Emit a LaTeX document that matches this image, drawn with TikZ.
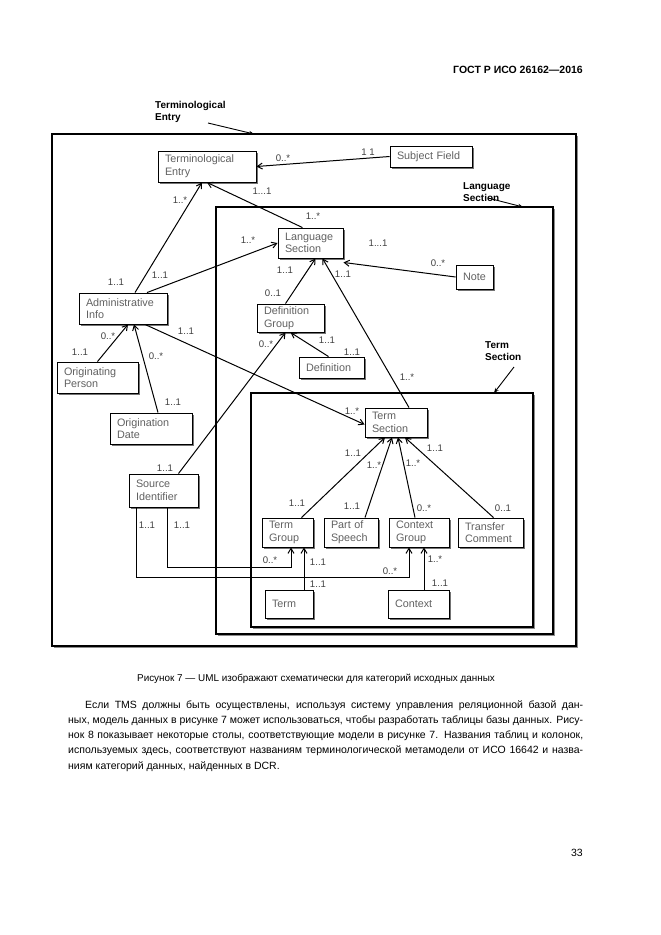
\documentclass[tikz,border=0pt]{standalone}
\usepackage{fontspec}
\setmainfont{Liberation Sans}
\usetikzlibrary{arrows.meta,shadows,calc}
\tikzset{
 bx/.style={draw=black, line width=0.9pt, fill=white, inner sep=0pt, align=left, text=black!62,
   font=\fontsize{10.8}{12.6}\selectfont,
   drop shadow={shadow xshift=1.6pt, shadow yshift=-1.6pt, fill=black!55, opacity=1}},
 frm/.style={draw=black, line width=1.6pt, fill=white, inner sep=0pt,
   drop shadow={shadow xshift=1.8pt, shadow yshift=-1.8pt, fill=black!45, opacity=1}},
 mlab/.style={font=\fontsize{9.6}{10}\selectfont, text=black!75, inner sep=0pt},
 flab/.style={font=\bfseries\fontsize{10}{12.5}\selectfont, align=left, inner sep=0pt, anchor=north west},
 conn/.style={line width=1pt, -{Straight Barb[length=5pt,width=6pt]}},
 ptr/.style={line width=0.9pt, -{Stealth[length=5pt,width=4pt]}},
 txt/.style={font=\fontsize{10.5}{15}\selectfont, inner sep=0pt, anchor=base west},
}
\newcommand\mybox[6]{%
 \pgfmathsetmacro\bw{#4-#2}\pgfmathsetmacro\bh{#5-#3}\pgfmathsetmacro\tw{#4-#2-14}%
 \node[bx, minimum width=\bw pt, minimum height=\bh pt, text width=\tw pt] (#1) at ({(#2+#4)/2},{(#3+#5)/2}) {#6};}
\newcommand\myframe[5]{%
 \pgfmathsetmacro\bw{#4-#2}\pgfmathsetmacro\bh{#5-#3}%
 \node[frm, minimum width=\bw pt, minimum height=\bh pt] (#1) at ({(#2+#4)/2},{(#3+#5)/2}) {};}
\newcommand\ml[4]{\node[mlab] (#1) at (#2,#3) {#4};}
\begin{document}
\begin{tikzpicture}[x=1pt,y=-1pt]
\useasboundingbox[fill=white] (0,0) rectangle (661,935);

% header
\node[font=\bfseries\fontsize{10.5}{12}\selectfont, anchor=base east, inner sep=0pt] (hdr) at (583,73) {ГОСТ Р ИСО 26162—2016};

% frames
\myframe{outer}{52}{134}{576}{646}
\myframe{lsf}{216}{207}{553}{634}
\myframe{tsf}{251}{393}{533}{627}

% frame labels
\node[flab] (tel) at (155,101) {Terminological\\Entry};
\node[flab] (lsl) at (463,182) {Language\\Section};
\node[flab] (tsl) at (485,341) {Term\\Section};
\coordinate (tea) at (208,123);
\coordinate (teb) at (254,134);
\coordinate (lsa) at (488,198);
\coordinate (lsb) at (523,207);
\coordinate (tsa) at (514,367);
\coordinate (tsb) at (494,393);
\draw[ptr] (tea) -- (teb);
\draw[ptr] (lsa) -- (lsb);
\draw[ptr] (tsa) -- (tsb);

% boxes
\mybox{te}{158}{151}{256}{182}{Terminological\\Entry}
\mybox{sf}{390}{146}{472}{167}{Subject Field}
\mybox{ls}{278}{228}{343}{258}{Language\\Section}
\mybox{note}{456}{265}{493}{289}{Note}
\mybox{dg}{257}{304}{324}{332}{Definition\\Group}
\mybox{def}{299}{357}{364}{378}{Definition}
\mybox{ai}{79}{293}{167}{324}{Administrative\\Info}
\mybox{op}{57}{362}{138}{393}{Originating\\Person}
\mybox{od}{110}{413}{192}{444}{Origination\\Date}
\mybox{tsn}{365}{408}{427}{437}{Term\\Section}
\mybox{si}{129}{474}{198}{507}{Source\\Identifier}
\mybox{tg}{262}{518}{313}{547}{Term\\Group}
\mybox{pos}{324}{518}{378}{547}{Part of\\Speech}
\mybox{cg}{389}{518}{449}{547}{Context\\Group}
\mybox{tc}{458}{518}{523}{547}{Transfer\\Comment}
\mybox{term}{265}{590}{313}{618}{Term}
\mybox{ctx}{388}{590}{449}{618}{Context}

% connectors
\draw[conn] (sf.west) -- (te.east);
\draw[conn] ([xshift=-8pt]ls.north) -- (te.south);
\draw[conn] ([xshift=12pt]ai.north) -- ([xshift=-5pt]te.south);
\draw[conn] ([xshift=24pt]ai.north) -- (ls.west);
\draw[conn] ([xshift=-5pt]dg.north) -- ([xshift=5pt]ls.south);
\draw[conn] ([xshift=13pt]tsn.north) -- ([xshift=12pt]ls.south);
\draw[conn] (note.west) -- ([yshift=-4pt]ls.south east);
\draw[conn] ([xshift=-3pt]def.north) -- (dg.south);
\draw[conn] ([xshift=15pt]si.north) -- ([xshift=-5pt]dg.south);
\draw[conn] ([xshift=22pt]ai.south) -- ([yshift=-2pt]tsn.west);
\draw[conn] (op.north) -- ([xshift=5pt]ai.south);
\draw[conn] ([xshift=7pt]od.north) -- ([xshift=11pt]ai.south);
\draw[conn] ([xshift=14pt]tg.north) -- ([xshift=-11pt]tsn.south);
\draw[conn] ([xshift=14pt]pos.north) -- ([xshift=-4pt]tsn.south);
\draw[conn] ([xshift=-4pt]cg.north) -- ([xshift=2pt]tsn.south);
\draw[conn] ([xshift=3pt]tc.north) -- ([xshift=9pt]tsn.south);
\draw[conn] ([xshift=15pt]term.north) -- ([xshift=15pt]term.north |- tg.south);
\draw[conn] ([xshift=5.5pt]ctx.north) -- ([xshift=5.5pt]ctx.north |- cg.south);
\draw[conn] ([xshift=3.5pt]si.south) -- ++(0,60) -| ([xshift=3.5pt]tg.south);
\draw[conn] ([xshift=-27.5pt]si.south) -- ++(0,70) -| ([xshift=-10pt]cg.south);

% multiplicities
\ml{m1a}{283}{158}{0..*}
\ml{m1b}{368}{152}{1 1}
\ml{m2a}{262}{191}{1...1}
\ml{m2b}{313}{216}{1..*}
\ml{m3a}{180}{200}{1..*}
\ml{m3b}{116}{282}{1..1}
\ml{m4a}{160}{275}{1..1}
\ml{m4b}{248}{240}{1..*}
\ml{m5a}{273}{293}{0..1}
\ml{m5b}{285}{270}{1..1}
\ml{m6a}{343}{274}{1..1}
\ml{m6b}{407}{377}{1..*}
\ml{m7a}{378}{243}{1...1}
\ml{m7b}{438}{263}{0..*}
\ml{m8a}{327}{340}{1..1}
\ml{m8b}{352}{352}{1..1}
\ml{m9a}{266}{344}{0..*}
\ml{m9b}{165}{468}{1..1}
\ml{m10a}{186}{331}{1..1}
\ml{m10b}{352}{411}{1..*}
\ml{m11a}{108}{336}{0..*}
\ml{m11b}{80}{352}{1..1}
\ml{m12a}{156}{356}{0..*}
\ml{m12b}{173}{402}{1..1}
\ml{m13a}{297}{503}{1..1}
\ml{m13b}{353}{453}{1..1}
\ml{m14a}{352}{506}{1..1}
\ml{m14b}{374}{465}{1..*}
\ml{m15a}{424}{508}{0..*}
\ml{m15b}{413}{463}{1..*}
\ml{m16a}{503}{508}{0..1}
\ml{m16b}{435}{448}{1..1}
\ml{m17a}{318}{562}{1..1}
\ml{m17b}{318}{584}{1..1}
\ml{m18a}{435}{559}{1..*}
\ml{m18b}{440}{583}{1..1}
\ml{m19a}{182}{525}{1..1}
\ml{m19b}{270}{560}{0..*}
\ml{m20a}{147}{525}{1..1}
\ml{m20b}{390}{571}{0..*}

% caption
\node[font=\fontsize{9.9}{11}\selectfont, inner sep=0pt, anchor=base] (cap) at (316,681) {Рисунок 7 — UML изображают схематически для категорий исходных данных};

% paragraph
\node[txt] (p1) at (85,708) {\makebox[498pt][s]{Если TMS должны быть осуществлены, используя систему управления реляционной базой дан-}};
\node[txt] (p2) at (68,723.3) {\makebox[515pt][s]{ных, модель данных в рисунке 7 может использоваться, чтобы разработать таблицы базы данных. Рису-}};
\node[txt] (p3) at (68,738.6) {\makebox[515pt][s]{нок 8 показывает некоторые столы, соответствующие модели в рисунке 7. Названия таблиц и колонок,}};
\node[txt] (p4) at (68,753.9) {\makebox[515pt][s]{используемых здесь, соответствуют названиям терминологической метамодели от ИСО 16642 и назва-}};
\node[txt] (p5) at (68,769.2) {ниям категорий данных, найденных в DCR.};

% page number
\node[font=\fontsize{10.5}{12}\selectfont, inner sep=0pt, anchor=base east] (pg) at (583,856) {33};
\end{tikzpicture}
\end{document}
